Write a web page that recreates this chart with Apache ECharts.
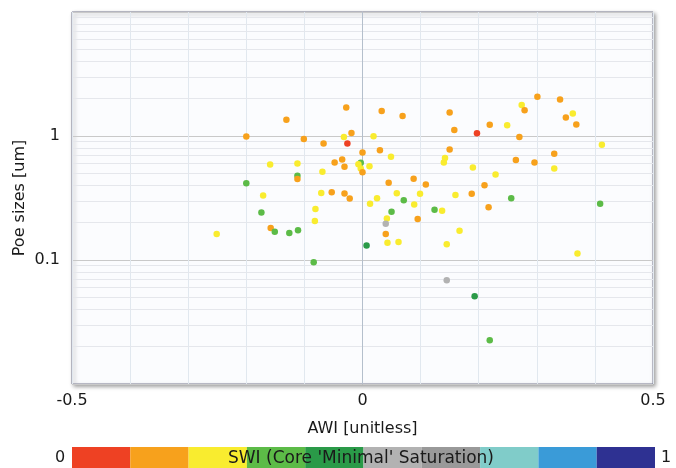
<!DOCTYPE html>
<html>
<head>
<meta charset="utf-8">
<script src="https://cdn.jsdelivr.net/npm/echarts@6/dist/echarts.min.js"></script>
<style>
html,body{margin:0;padding:0;background:#ffffff;}
#chart{width:676px;height:468px;}
</style>
</head>
<body>
<div id="chart"></div>
<script>
// AWI (x), pore size in um (y), SWI (colour)
var awi = [-0.200,-0.131,-0.101,-0.067,-0.028,-0.032,-0.026,-0.019,-0.048,-0.035,-0.031,-0.159,-0.112,-0.112,-0.112,-0.200,-0.069,-0.171,-0.071,-0.053,-0.031,-0.022,-0.174,-0.081,-0.082,-0.251,-0.158,-0.151,-0.126,-0.111,-0.084,
  0.033,0.069,0.150,0.158,0.219,0.197,0.019,0.000,0.030,0.049,0.150,0.142,0.140,0.190,0.229,-0.003,-0.007,-0.003,0.012,0.000,0.045,0.088,0.109,0.210,0.059,0.099,0.160,0.188,0.025,0.013,0.071,0.089,0.217,0.050,0.124,0.137,0.042,0.095,
  0.301,0.340,0.274,0.279,0.362,0.350,0.368,0.249,0.270,0.412,0.330,0.264,0.296,0.330,0.256,0.409,
  0.040,0.040,0.043,0.062,0.007,0.167,0.145,0.370,0.145,0.193,0.219];
var poreSize = [0.99,1.35,0.946,0.87,1.70,0.98,0.87,1.057,0.61,0.647,0.564,0.59,0.60,0.479,0.449,0.415,0.514,0.331,0.347,0.352,0.343,0.314,0.242,0.258,0.206,0.162,0.181,0.169,0.165,0.174,0.096,
  1.59,1.45,1.545,1.12,1.23,1.053,0.996,0.737,0.766,0.679,0.779,0.666,0.612,0.558,0.49,0.608,0.591,0.548,0.571,0.51,0.419,0.452,0.407,0.40,0.345,0.342,0.334,0.342,0.315,0.284,0.303,0.28,0.266,0.245,0.254,0.25,0.216,0.214,
  2.07,1.97,1.78,1.61,1.52,1.41,1.24,1.22,0.98,0.851,0.72,0.641,0.612,0.548,0.315,0.284,
  0.196,0.162,0.138,0.14,0.131,0.172,0.134,0.1126,0.0688,0.051,0.0225];
var swi = [0.15,0.15,0.15,0.15,0.15,0.25,0.05,0.15,0.15,0.15,0.15,0.25,0.25,0.35,0.15,0.35,0.25,0.25,0.25,0.15,0.15,0.15,0.35,0.25,0.25,0.25,0.15,0.35,0.35,0.35,0.35,
  0.15,0.15,0.15,0.15,0.15,0.05,0.25,0.15,0.15,0.25,0.15,0.25,0.25,0.25,0.25,0.35,0.25,0.25,0.25,0.15,0.15,0.15,0.15,0.15,0.25,0.25,0.25,0.15,0.25,0.25,0.35,0.25,0.15,0.35,0.35,0.25,0.25,0.15,
  0.15,0.15,0.25,0.15,0.25,0.15,0.15,0.25,0.15,0.25,0.15,0.15,0.15,0.25,0.35,0.35,
  0.55,0.15,0.25,0.25,0.45,0.25,0.25,0.25,0.55,0.45,0.35];

// colour scale bins for SWI
var swiBinEdges = [0,0.1,0.2,0.3,0.4,0.5,0.6,0.7,0.8,0.9,1.0];
var swiColors = ['#EE4123','#F7A11C','#F9EC2F','#5CBB47','#2A9A48','#B2B2B2','#999999','#80CCC9','#3A9BD8','#2E3192'];

// axis tick labels shown
var xTickLabels = [-0.5, 0, 0.5];
var yMinorGrid = [0.02,0.03,0.04,0.05,0.06,0.07,0.08,0.09,0.2,0.3,0.4,0.5,0.6,0.7,0.8,0.9,2,3,4,5,6,7,8,9];

var points = awi.map(function(x,i){ return [x, poreSize[i], swi[i]]; });
var pieces = swiColors.map(function(c,i){ return {gte: swiBinEdges[i], lt: swiBinEdges[i+1], color: c}; });
pieces[pieces.length-1].lte = 1; delete pieces[pieces.length-1].lt;

var font = 'DejaVu Sans';
var chart = echarts.init(document.getElementById('chart'), null, {renderer:'canvas'});
var gridLines = yMinorGrid.map(function(v){ return {yAxis: v}; });
gridLines.push({xAxis: 0, lineStyle:{color:'#b4bfcc', width:1, type:'solid'}});

chart.setOption({
  animation: false,
  backgroundColor: '#ffffff',
  grid: {
    left: 72, top: 12, width: 581, height: 372,
    show: true, backgroundColor: '#fbfcfe',
    borderColor: '#7d7f94', borderWidth: 1,
    shadowColor: 'rgba(0,0,0,0.4)', shadowBlur: 4, shadowOffsetX: 2, shadowOffsetY: 2
  },
  xAxis: {
    type: 'value', min: -0.5, max: 0.5, interval: 0.1,
    name: 'AWI [unitless]', nameLocation: 'middle', nameGap: 37, nameMoveOverlap: false,
    nameTextStyle: {fontFamily: font, fontSize: 16, color: '#1a1a1a'},
    axisLine: {show: false}, axisTick: {show: false},
    axisLabel: {fontFamily: font, fontSize: 16, color: '#1a1a1a', margin: 9,
      formatter: function(v){
        var r = Math.round(v*10)/10;
        for (var i=0;i<xTickLabels.length;i++){ if (Math.abs(xTickLabels[i]-r)<1e-9) return String(xTickLabels[i]); }
        return '';
      }},
    splitLine: {show: true, lineStyle: {color: '#e1e8ef', width: 1}}
  },
  yAxis: {
    type: 'log', min: 0.01, max: 10, logBase: 10,
    name: 'Poe sizes [um]', nameLocation: 'middle', nameGap: 44, nameRotate: 90, nameMoveOverlap: false,
    nameTextStyle: {fontFamily: font, fontSize: 16, color: '#1a1a1a'},
    axisLine: {show: false}, axisTick: {show: false},
    axisLabel: {fontFamily: font, fontSize: 16, color: '#1a1a1a', margin: 12,
      showMinLabel: false, showMaxLabel: false,
      formatter: function(v){ return String(v); }},
    splitLine: {show: true, lineStyle: {color: '#c9c9c9', width: 1}}
  },
  visualMap: {
    type: 'piecewise', seriesIndex: 0, dimension: 2,
    orient: 'horizontal', left: 72, top: 447,
    itemWidth: 58.3, itemHeight: 24, itemGap: 0, itemSymbol: 'rect',
    showLabel: false, selectedMode: false, hoverLink: false,
    pieces: pieces, padding: 0
  },
  graphic: [
    {type:'text', left: 55, top: 450, style:{text:'0', font:'16px "DejaVu Sans"', fill:'#1a1a1a'}},
    {type:'text', left: 661, top: 450, style:{text:'1', font:'16px "DejaVu Sans"', fill:'#1a1a1a'}},
    {type:'text', x: 361, y: 459, z: 100, style:{text:"SWI (Core 'Minimal' Saturation)", font:'17px "DejaVu Sans"', fill:'#1a1a1a', align:'center', verticalAlign:'middle'}}
  ],
  series: [
    {
      type: 'scatter', data: points, symbolSize: 6.5, z: 5,
      itemStyle: {opacity: 1}
    },
    {
      type: 'line', data: [], z: 1, silent: true,
      markLine: {
        silent: true, symbol: ['none','none'], label: {show: false}, animation: false,
        lineStyle: {color: '#e5e7ec', width: 1, type: 'solid'},
        data: gridLines
      }
    }
  ]
});
</script>
</body>
</html>
